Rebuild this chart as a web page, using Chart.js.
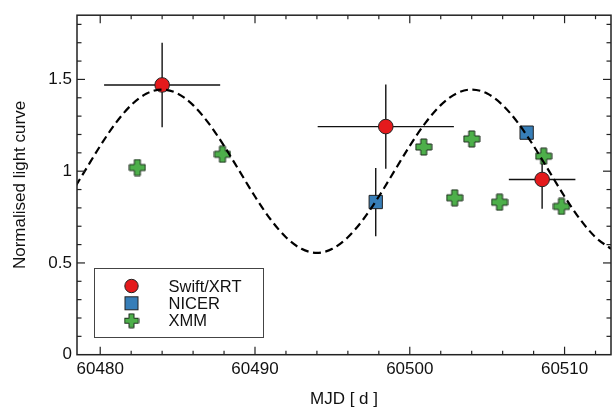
<!DOCTYPE html>
<html>
<head>
<meta charset="utf-8">
<script src="https://cdn.jsdelivr.net/npm/chart.js@4.4.1/dist/chart.umd.min.js"></script>
<style>
    html, body { margin: 0; padding: 0; background: #fff; }
</style>
</head>
<body>
<canvas id="lightcurve" width="612" height="408"></canvas>
<script>
// Swift/XRT points with errors in both directions
const swiftMjd = [60484.0, 60498.45, 60508.55];
const swiftFlux = [1.47, 1.243, 0.955];
const swiftMjdErr = [3.75, 4.4, 2.15];
const swiftFluxErr = [0.23, 0.23, 0.16];

// NICER points
const nicerMjd = [60497.8, 60507.55];
const nicerFlux = [0.832, 1.21];
const nicerFluxErr = [0.186, 0.03];

// XMM points
const xmmMjd = [60482.4, 60487.9, 60500.9, 60502.9, 60504.0, 60505.8, 60508.65, 60509.8];
const xmmFlux = [1.02, 1.092, 1.132, 0.855, 1.176, 0.831, 1.082, 0.808];

// dashed model curve
const modelMjd = [60478, 60479, 60480, 60481, 60482, 60483, 60484, 60485, 60486, 60487, 60488, 60489,
    60490, 60491, 60492, 60493, 60494, 60495, 60496, 60497, 60498, 60499, 60500, 60501,
    60502, 60503, 60504, 60505, 60506, 60507, 60508, 60509, 60510, 60511, 60512, 60513];
const modelFlux = [0.862, 1.0, 1.138, 1.262, 1.36, 1.423, 1.445, 1.423, 1.36, 1.262, 1.138, 1.0,
    0.862, 0.738, 0.64, 0.577, 0.555, 0.577, 0.64, 0.738, 0.862, 1.0, 1.138, 1.262,
    1.36, 1.423, 1.445, 1.423, 1.36, 1.262, 1.138, 1.0, 0.862, 0.738, 0.64, 0.577];

const xTickLabels = [60480, 60490, 60500, 60510];
const yTickLabels = [0, 0.5, 1, 1.5];

const RED = '#e41a1c';
const BLUE = '#377eb8';
const GREEN = '#4daf4a';
const INK = '#111';
const FONT = "'Liberation Sans', Arial, Helvetica, sans-serif";

Chart.defaults.font.family = FONT;
Chart.defaults.font.size = 17;
Chart.defaults.color = INK;

function makePlus(size, arm) {
    const c = document.createElement('canvas');
    c.width = size + 2;
    c.height = size + 2;
    const g = c.getContext('2d');
    const o = 1, a = (size - arm) / 2, b = a + arm;
    g.beginPath();
    g.moveTo(o + a, o); g.lineTo(o + b, o); g.lineTo(o + b, o + a); g.lineTo(o + size, o + a);
    g.lineTo(o + size, o + b); g.lineTo(o + b, o + b); g.lineTo(o + b, o + size); g.lineTo(o + a, o + size);
    g.lineTo(o + a, o + b); g.lineTo(o, o + b); g.lineTo(o, o + a); g.lineTo(o + a, o + a);
    g.closePath();
    g.fillStyle = GREEN;
    g.fill();
    g.lineWidth = 1;
    g.strokeStyle = '#1d2b1c';
    g.stroke();
    return c;
}

const plusBig = makePlus(16, 6);
const plusSmall = makePlus(14, 5);

function toPoints(xs, ys) {
    return xs.map((v, i) => ({x: v, y: ys[i]}));
}

function seg(ctx, x1, y1, x2, y2) {
    ctx.beginPath();
    ctx.moveTo(x1, y1);
    ctx.lineTo(x2, y2);
    ctx.stroke();
}

const decorations = {
    id: 'decorations',
    beforeDatasetsDraw(chart) {
        const {ctx, scales: {x, y}} = chart;
        ctx.save();
        ctx.strokeStyle = INK;
        ctx.lineWidth = 1.4;
        swiftMjd.forEach((m, i) => {
            const px = x.getPixelForValue(m);
            const py = y.getPixelForValue(swiftFlux[i]);
            seg(ctx, x.getPixelForValue(m - swiftMjdErr[i]), py, x.getPixelForValue(m + swiftMjdErr[i]), py);
            seg(ctx, px, y.getPixelForValue(swiftFlux[i] + swiftFluxErr[i]), px, y.getPixelForValue(swiftFlux[i] - swiftFluxErr[i]));
        });
        nicerMjd.forEach((m, i) => {
            const px = x.getPixelForValue(m);
            seg(ctx, px, y.getPixelForValue(nicerFlux[i] + nicerFluxErr[i]), px, y.getPixelForValue(nicerFlux[i] - nicerFluxErr[i]));
        });
        ctx.restore();
    },
    afterDraw(chart) {
        const {ctx, chartArea: ca, scales: {x, y}} = chart;
        ctx.save();
        ctx.strokeStyle = '#222';
        ctx.lineWidth = 1.5;
        ctx.strokeRect(ca.left, ca.top, ca.right - ca.left, ca.bottom - ca.top);

        // inward ticks on all four sides
        ctx.lineWidth = 1.2;
        for (let v = 60480; v <= x.max; v += 2) {
            const len = v % 10 === 0 ? 8 : 4;
            const px = x.getPixelForValue(v);
            seg(ctx, px, ca.bottom, px, ca.bottom - len);
            seg(ctx, px, ca.top, px, ca.top + len);
        }
        for (let k = 1; k <= 18; k++) {
            const v = k / 10;
            const len = k % 5 === 0 ? 8 : 4.5;
            const py = y.getPixelForValue(v);
            seg(ctx, ca.left, py, ca.left + len, py);
            seg(ctx, ca.right, py, ca.right - len, py);
        }

        // legend
        const lx = 94, ly = 268.5, lw = 169, lh = 69;
        ctx.fillStyle = '#fff';
        ctx.fillRect(lx, ly, lw, lh);
        ctx.strokeStyle = '#444';
        ctx.lineWidth = 1;
        ctx.strokeRect(lx + 0.5, ly, lw, lh);
        const mx = 131.5;
        const rows = [286, 303.3, 320.7];
        ctx.lineWidth = 1;
        ctx.strokeStyle = '#222';
        ctx.fillStyle = RED;
        ctx.beginPath();
        ctx.arc(mx, rows[0], 6.7, 0, Math.PI * 2);
        ctx.fill();
        ctx.stroke();
        ctx.fillStyle = BLUE;
        ctx.fillRect(mx - 6.5, rows[1] - 6.5, 13, 13);
        ctx.strokeRect(mx - 6.5, rows[1] - 6.5, 13, 13);
        ctx.drawImage(plusSmall, mx - plusSmall.width / 2, rows[2] - plusSmall.height / 2);
        ctx.fillStyle = INK;
        ctx.font = '16.5px ' + FONT;
        ctx.textBaseline = 'middle';
        ctx.textAlign = 'left';
        ['Swift/XRT', 'NICER', 'XMM'].forEach((t, i) => ctx.fillText(t, 168.5, rows[i] + 1));
        ctx.restore();
    }
};

new Chart(document.getElementById('lightcurve'), {
    type: 'scatter',
    data: {
        datasets: [
            {
                label: 'model',
                data: toPoints(modelMjd, modelFlux),
                showLine: true,
                borderColor: '#000',
                borderWidth: 2.2,
                borderDash: [8, 4.5],
                pointRadius: 0,
                cubicInterpolationMode: 'monotone',
                order: 0
            },
            {
                label: 'Swift/XRT',
                data: toPoints(swiftMjd, swiftFlux),
                pointStyle: 'circle',
                pointRadius: 7.3,
                backgroundColor: RED,
                borderColor: '#222',
                borderWidth: 1,
                order: 1
            },
            {
                label: 'NICER',
                data: toPoints(nicerMjd, nicerFlux),
                pointStyle: 'rect',
                pointRadius: 9.4,
                backgroundColor: BLUE,
                borderColor: '#222',
                borderWidth: 1,
                order: 2
            },
            {
                label: 'XMM',
                data: toPoints(xmmMjd, xmmFlux),
                pointStyle: plusBig,
                pointRadius: 9,
                backgroundColor: GREEN,
                order: 3
            }
        ]
    },
    options: {
        responsive: false,
        animation: false,
        layout: { autoPadding: false, padding: { left: 0, right: 1, top: 12, bottom: 0 } },
        plugins: {
            legend: { display: false },
            tooltip: { enabled: false }
        },
        scales: {
            x: {
                type: 'linear',
                min: 60478.5,
                max: 60513,
                grid: { display: false, drawTicks: false },
                border: { display: false },
                ticks: {
                    stepSize: 10,
                    includeBounds: false,
                    padding: 4,
                    maxRotation: 0,
                    autoSkip: false,
                    callback: v => xTickLabels.includes(v) ? String(v) : ''
                },
                title: {
                    display: true,
                    text: 'MJD [ d ]',
                    font: { size: 17, lineHeight: 1 },
                    padding: 0
                },
                afterFit: s => { s.height = 53.3; }
            },
            y: {
                min: 0,
                max: 1.85,
                grid: { display: false, drawTicks: false },
                border: { display: false },
                ticks: {
                    stepSize: 0.5,
                    includeBounds: false,
                    padding: 5,
                    callback: v => yTickLabels.includes(v) ? String(v) : ''
                },
                title: {
                    display: true,
                    text: 'Normalised light curve',
                    font: { size: 17, lineHeight: 1 },
                    padding: { top: 12, bottom: 0 }
                },
                afterFit: s => { s.width = 77; }
            }
        }
    },
    plugins: [decorations]
});
</script>
</body>
</html>
